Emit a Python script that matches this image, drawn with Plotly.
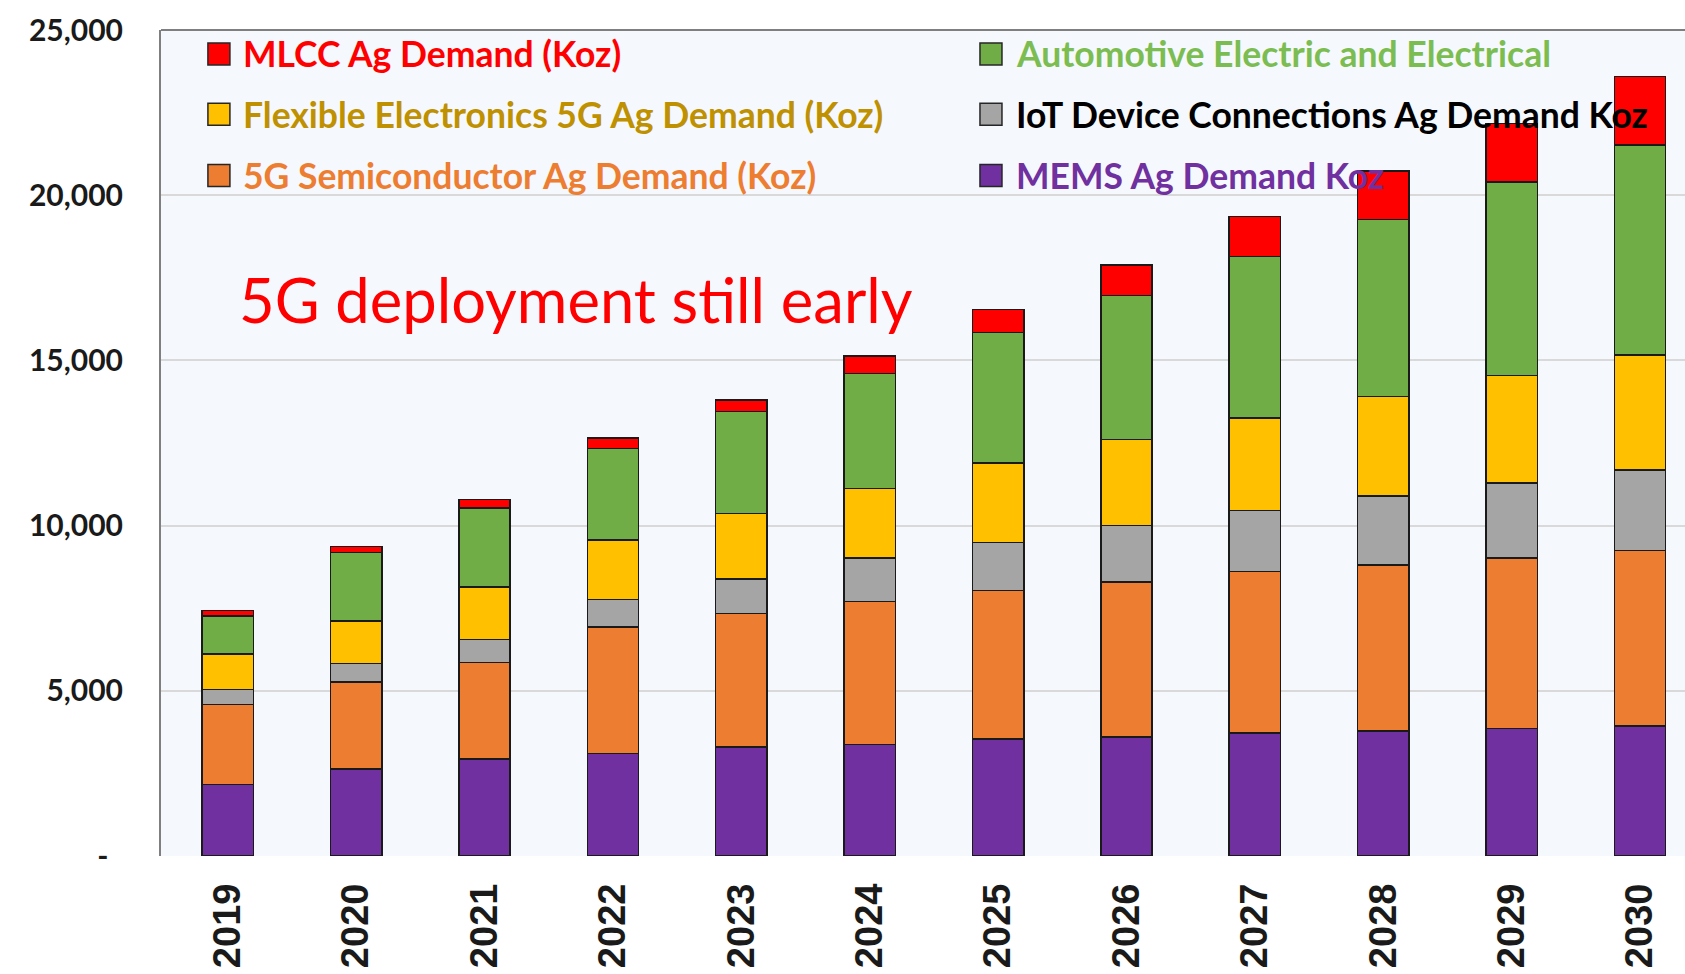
import plotly.graph_objects as go

years = ["2019", "2020", "2021", "2022", "2023", "2024", "2025", "2026", "2027", "2028", "2029", "2030"]

mems = [2170, 2630, 2940, 3100, 3300, 3380, 3540, 3600, 3730, 3780, 3860, 3940]
semi = [2420, 2630, 2920, 3830, 4040, 4320, 4500, 4700, 4880, 5030, 5160, 5310]
iot = [450, 560, 690, 840, 1050, 1320, 1450, 1700, 1840, 2080, 2270, 2440]
flex = [1080, 1300, 1590, 1800, 1970, 2100, 2410, 2600, 2800, 3020, 3250, 3470]
auto = [1140, 2060, 2400, 2770, 3100, 3490, 3950, 4360, 4890, 5350, 5860, 6360]
mlcc = [165, 185, 255, 305, 340, 530, 690, 930, 1220, 1480, 1770, 2080]

series_names = [
    "MEMS Ag Demand Koz",
    "5G Semiconductor Ag Demand (Koz)",
    "IoT Device Connections Ag Demand Koz",
    "Flexible Electronics 5G Ag Demand (Koz)",
    "Automotive Electric and Electrical",
    "MLCC Ag Demand (Koz)",
]
series_values = [mems, semi, iot, flex, auto, mlcc]
bar_colors = ["#7030A0", "#ED7D31", "#A5A5A5", "#FFC000", "#70AD47", "#FF0000"]
legend_text_colors = ["#7030A0", "#ED7D31", "#000000", "#BF9000", "#7CBD52", "#FF0000"]

ytick_vals = [0, 5000, 10000, 15000, 20000, 25000]
ytick_text = ["-\u00a0\u00a0", "5,000", "10,000", "15,000", "20,000", "25,000"]

annotation_text = "5G deployment still early"

# legend grid: (series index, column, row)
legend_layout = [(5, 0, 0), (3, 0, 1), (1, 0, 2), (4, 1, 0), (2, 1, 1), (0, 1, 2)]
legend_col_x = [0.038, 0.5446]
legend_row_y = [0.971, 0.898, 0.824]

fig = go.Figure()
for name, vals, col in zip(series_names, series_values, bar_colors):
    fig.add_trace(go.Bar(
        x=years, y=vals, name=name,
        marker=dict(color=col, line=dict(color="#1a1a1a", width=1.5)),
        width=0.4,
    ))

shapes = [
    dict(type="line", xref="paper", yref="paper", x0=0, x1=1, y0=1, y1=1,
         line=dict(color="#7f7f7f", width=2)),
]
annotations = []
for idx, c, r in legend_layout:
    shapes.append(dict(
        type="rect", xref="paper", yref="paper",
        xsizemode="pixel", ysizemode="pixel",
        xanchor=legend_col_x[c], yanchor=legend_row_y[r],
        x0=-11, x1=11, y0=-11, y1=11,
        fillcolor=bar_colors[idx], line=dict(color="#262626", width=1.5),
    ))
    annotations.append(dict(
        xref="paper", yref="paper", x=legend_col_x[c] + 0.0148, y=legend_row_y[r],
        xanchor="left", yanchor="middle", showarrow=False,
        text=series_names[idx],
        font=dict(family="Lato", size=35.5, weight="bold", color=legend_text_colors[idx]),
    ))

annotations.append(dict(
    xref="paper", yref="paper", x=0.0496, y=0.674,
    xanchor="left", yanchor="middle", showarrow=False,
    text=annotation_text,
    font=dict(family="Lato", size=61.5, color="#FF0000"),
))

fig.update_layout(
    width=1685, height=974,
    margin=dict(l=161, r=0, t=30, b=118, pad=0),
    barmode="stack",
    showlegend=False,
    paper_bgcolor="#FFFFFF",
    plot_bgcolor="#F5F8FC",
    shapes=shapes,
    annotations=annotations,
    xaxis=dict(
        type="category", range=[-0.52, 11.35],
        tickangle=-90, showgrid=False, showline=False, zeroline=False,
        ticks="", ticklabelstandoff=19,
        tickfont=dict(family="Liberation Sans", size=38, weight="bold", color="#1a1a1a"),
    ),
    yaxis=dict(
        range=[0, 25000], tickvals=ytick_vals, ticktext=ytick_text,
        showgrid=True, gridcolor="#D9D9D9", gridwidth=2,
        zeroline=False, showline=True, linecolor="#7f7f7f", linewidth=2,
        ticks="", ticklabelstandoff=30,
        tickfont=dict(family="Lato", size=30, weight="bold", color="#1a1a1a"),
    ),
)

fig.write_html(
    "out.html",
    config={"displayModeBar": False},
    post_script="document.body.style.margin='0px';",
)
